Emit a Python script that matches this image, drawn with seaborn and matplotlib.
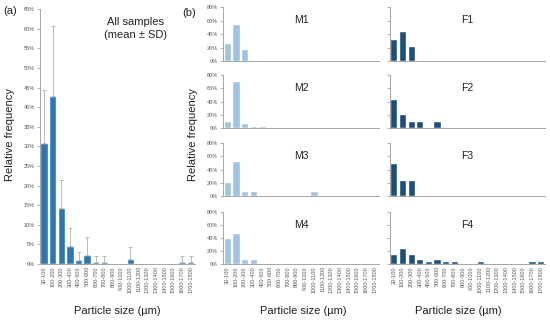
import matplotlib
matplotlib.use("Agg")
import matplotlib.pyplot as plt
from matplotlib.ticker import PercentFormatter, MultipleLocator
import seaborn as sns
import pandas as pd
import numpy as np

sns.set_theme(style="white")
plt.rcParams['font.family'] = ['Liberation Sans', 'DejaVu Sans']

categories = ["30-100", "100-200", "200-300", "300-400", "400-500", "500-600",
              "600-700", "700-800", "800-900", "900-1000", "1000-1100", "1100-1200",
              "1200-1300", "1300-1400", "1400-1500", "1500-1600", "1600-1700", "1700-1800"]

all_mean = [30.8, 43.0, 14.4, 4.6, 1.0, 2.4, 0.5, 0.5, 0, 0, 1.4, 0, 0, 0, 0, 0, 0.5, 0.5]
all_sd = [13.5, 17.7, 7.1, 4.6, 2.0, 4.6, 1.5, 1.5, 0, 0, 3.0, 0, 0, 0, 0, 0, 1.5, 1.5]

m1 = [27, 55, 18, 0, 0, 0, 0, 0, 0, 0, 0, 0, 0, 0, 0, 0, 0, 0]
m2 = [11, 72, 7, 3, 3, 0, 0, 0, 0, 0, 0, 0, 0, 0, 0, 0, 0, 0]
m3 = [22, 53, 7, 7, 0, 0, 0, 0, 0, 0, 7, 0, 0, 0, 0, 0, 0, 0]
m4 = [40, 47, 7, 7, 0, 0, 0, 0, 0, 0, 0, 0, 0, 0, 0, 0, 0, 0]
f1 = [33, 44, 22, 0, 0, 0, 0, 0, 0, 0, 0, 0, 0, 0, 0, 0, 0, 0]
f2 = [44, 22, 10, 10, 0, 10, 0, 0, 0, 0, 0, 0, 0, 0, 0, 0, 0, 0]
f3 = [50, 25, 25, 0, 0, 0, 0, 0, 0, 0, 0, 0, 0, 0, 0, 0, 0, 0]
f4 = [16, 25, 16, 8, 4, 8, 4, 4, 0, 0, 4, 0, 0, 0, 0, 0, 4, 4]

m_names = ["M1", "M2", "M3", "M4"]
f_names = ["F1", "F2", "F3", "F4"]

c_all = "#2e75b6"
c_m = "#9dc3e6"
c_f = "#1f4e79"
c_axis = "#a6a6a6"
c_tick = "#595959"

W, H = 550, 321
fig = plt.figure(figsize=(5.5, 3.21), dpi=100)


def px_axes(left, right, top, bottom):
    return fig.add_axes([left / W, 1 - bottom / H, (right - left) / W, (bottom - top) / H])


def style(ax, show_x, ylab=True):
    for s in ["top", "right"]:
        ax.spines[s].set_visible(False)
    for s in ["left", "bottom"]:
        ax.spines[s].set_color(c_axis)
        ax.spines[s].set_linewidth(0.7)
    ax.tick_params(axis="y", length=2.5, width=0.6, color=c_axis, labelsize=4,
                   labelcolor=c_tick, pad=1, left=True, labelleft=ylab)
    ax.tick_params(axis="x", length=0, labelsize=4, labelcolor=c_tick, pad=1.5,
                   labelrotation=90, labelbottom=show_x)
    ax.set_xlabel("")
    ax.set_ylabel("")


# Panel (a)
df_all = pd.DataFrame({"cat": categories, "val": np.array(all_mean) / 100})
ax_a = px_axes(39.7, 195, 9.3, 264)
sns.barplot(data=df_all, x="cat", y="val", order=categories, color=c_all,
            saturation=1, width=0.85, ax=ax_a)
xs = np.arange(len(categories))
sd = np.array(all_sd) / 100
mask = sd > 0
ax_a.errorbar(xs[mask], (np.array(all_mean) / 100)[mask],
              yerr=[np.zeros(mask.sum()), sd[mask]], fmt="none",
              ecolor="#b0b0b0", elinewidth=0.6, capsize=1.5, capthick=0.6)
ax_a.set_ylim(0, 0.65)
ax_a.set_xlim(-0.5, len(categories) - 0.5)
ax_a.yaxis.set_major_locator(MultipleLocator(0.05))
ax_a.yaxis.set_major_formatter(PercentFormatter(1.0, decimals=0))
style(ax_a, True)
ax_a.text(0.62, 0.97, "All samples\n(mean \u00b1 SD)", transform=ax_a.transAxes,
          ha="center", va="top", fontsize=8, color="#222222", linespacing=1.35)

rows = [(7.3, 61), (75.3, 128), (143.3, 196), (212, 264)]
m_data = [m1, m2, m3, m4]
f_data = [f1, f2, f3, f4]

for i, (top, bot) in enumerate(rows):
    for col, (left, right, data, names, color, ylab) in enumerate([
            (223, 379, m_data, m_names, c_m, True),
            (389.5, 545, f_data, f_names, c_f, False)]):
        ax = px_axes(left, right, top, bot)
        df = pd.DataFrame({"cat": categories, "val": np.array(data[i]) / 100})
        sns.barplot(data=df, x="cat", y="val", order=categories, color=color,
                    saturation=1, width=0.82, ax=ax)
        ax.set_ylim(0, 0.8)
        ax.set_xlim(-0.5, len(categories) - 0.5)
        ax.yaxis.set_major_locator(MultipleLocator(0.2))
        ax.yaxis.set_major_formatter(PercentFormatter(1.0, decimals=0))
        style(ax, i == 3, ylab)
        ax.text(0.5, 0.85, names[i], transform=ax.transAxes, ha="center",
                va="top", fontsize=7.5, color="#222222")

# Labels
fig.text(10 / W, 1 - 135 / H, "Relative frequency", rotation=90, ha="center",
         va="center", fontsize=8, color="#222222")
fig.text(193 / W, 1 - 135 / H, "Relative frequency", rotation=90, ha="center",
         va="center", fontsize=8, color="#222222")
for xc in (117, 303, 458):
    fig.text(xc / W, 1 - 311 / H, "Particle size (\u00b5m)", ha="center",
             va="center", fontsize=8, color="#222222")
fig.text(3 / W, 1 - 11 / H, "(a)", ha="left", va="center", fontsize=8, color="#222222")
fig.text(182 / W, 1 - 13 / H, "(b)", ha="left", va="center", fontsize=8, color="#222222")

fig.savefig("out.png", dpi=100)
